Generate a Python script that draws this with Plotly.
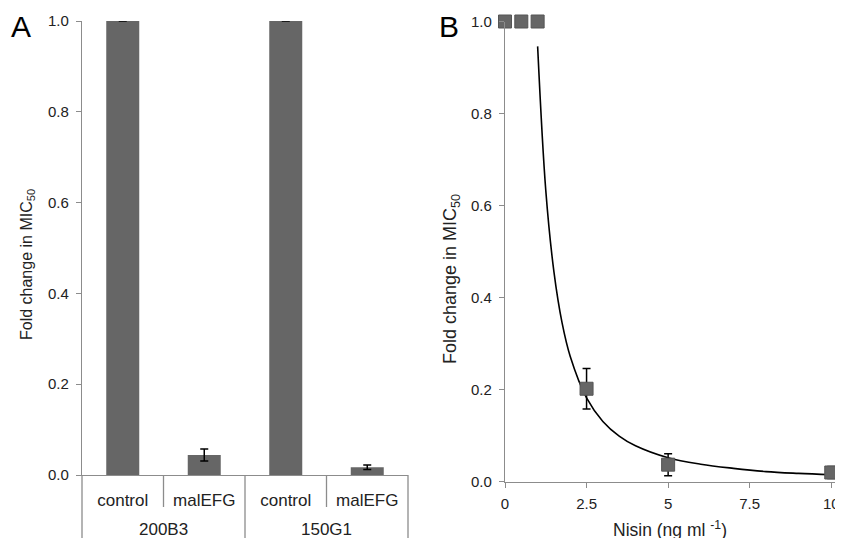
import plotly.graph_objects as go

W, H = 851, 530      # figure size (page body adds an 8px offset)
OFF = 8

# ---- Panel A data ----
strains = ["200B3", "200B3", "150G1", "150G1"]
conditions = ["control", "malEFG", "control", "malEFG"]
groups = ["200B3", "150G1"]
fold_a = [1.0, 0.044, 1.0, 0.017]
err_a = [0.0, 0.013, 0.0, 0.005]

# ---- Panel B data ----
nisin_x = [0, 0.5, 1.0, 2.5, 5, 10]
fold_b = [1.0, 1.0, 1.0, 0.202, 0.037, 0.02]
err_b = [0.0, 0.0, 0.0, 0.044, 0.024, 0.013]

# trend curve
curve_x = [1.0, 1.25, 1.5, 1.75, 2.0, 2.5, 3.0, 3.5, 4.0, 5.0, 6.0, 7.0, 8.0, 9.0, 10.0]
curve_y = [0.946, 0.633, 0.456, 0.345, 0.272, 0.182, 0.131, 0.099, 0.078, 0.052, 0.038, 0.029, 0.022, 0.018, 0.015]

xticks_b = [0, 2.5, 5, 7.5, 10]
xticklabels_b = ["0", "2.5", "5", "7.5", "10"]
yticks = [0, 0.2, 0.4, 0.6, 0.8, 1.0]

BAR = "#666666"
AX = "#8c8c8c"
FONT = "Liberation Sans, Arial, sans-serif"
TXT = "#222222"

def px_x(p):
    return (p - OFF) / W

def px_y(p):
    return 1 - (p - OFF) / H

def errs(vals):
    # no error bar drawn where the error is zero
    return [v if v > 0 else None for v in vals]

cats = [s + " " + c for s, c in zip(strains, conditions)]

fig = go.Figure()

fig.add_trace(go.Bar(
    x=cats, y=fold_a,
    marker=dict(color=BAR, line=dict(width=0)),
    error_y=dict(type="data", array=errs(err_a), color="black", thickness=1.5, width=4),
    xaxis="x", yaxis="y", showlegend=False,
))

fig.add_trace(go.Scatter(
    x=curve_x, y=curve_y, mode="lines", line=dict(color="black", width=1.6, shape="spline"),
    xaxis="x2", yaxis="y2", showlegend=False,
))

fig.add_trace(go.Scatter(
    x=nisin_x, y=fold_b, mode="markers",
    marker=dict(symbol="square", size=13, color=BAR, line=dict(color="#555555", width=1)),
    error_y=dict(type="data", array=errs(err_b), color="black", thickness=1.5, width=4),
    xaxis="x2", yaxis="y2", showlegend=False, cliponaxis=False,
))

ax_common = dict(showgrid=False, zeroline=False, linecolor=AX, linewidth=1.3,
                 tickfont=dict(family=FONT, size=15, color=TXT), automargin=False)

fig.update_layout(
    width=W, height=H,
    margin=dict(l=0, r=0, t=0, b=0),
    plot_bgcolor="white", paper_bgcolor="white",
    bargap=0.595,
    xaxis=dict(domain=[px_x(82), px_x(408)], type="category", showline=True,
               tickvals=cats, ticktext=conditions, ticks="",
               tickfont=dict(family=FONT, size=17, color=TXT),
               showgrid=False, zeroline=False, linecolor=AX, linewidth=1.3,
               ticklabelstandoff=9, automargin=False),
    yaxis=dict(domain=[px_y(475), px_y(21)], range=[0, 1], tickvals=yticks, tickformat=".1f",
               ticks="outside", ticklen=5, tickcolor=AX, showline=True, ticklabelstandoff=4,
               **ax_common),
    xaxis2=dict(domain=[px_x(505), px_x(843)], range=[0, 10.36], tickvals=xticks_b, ticktext=xticklabels_b,
                ticks="outside", ticklen=5, tickcolor=AX, showline=True, anchor="y2",
                ticklabelstandoff=3, ticklabeloverflow="allow", **ax_common),
    yaxis2=dict(domain=[px_y(481.7), px_y(21.5)], range=[0, 1], tickvals=yticks, tickformat=".1f",
                ticks="outside", ticklen=5, tickcolor=AX, showline=True, anchor="x2",
                ticklabelstandoff=4, **ax_common),
)

# category separators for panel A (axis decoration)
n = len(conditions)
shapes = []
for i in range(n + 1):
    xd = i / n
    is_group = (i % 2 == 0)
    y0 = 0 if is_group else px_y(507)
    shapes.append(dict(type="line", xref="x domain", yref="paper", x0=xd, x1=xd,
                       y0=px_y(475), y1=y0, line=dict(color=AX, width=1.3)))
fig.update_layout(shapes=shapes)

ann = [
    dict(text="A", x=px_x(21), y=px_y(27), font=dict(family=FONT, size=30, color="black")),
    dict(text="B", x=px_x(449), y=px_y(27), font=dict(family=FONT, size=30, color="black")),
    dict(text="Fold change in MIC<sub>50</sub>", x=px_x(27), y=px_y(265), textangle=-90,
         font=dict(family=FONT, size=16, color=TXT)),
    dict(text="Fold change in MIC<sub>50</sub>", x=px_x(451), y=px_y(279), textangle=-90,
         font=dict(family=FONT, size=18, color=TXT)),
    dict(text="Nisin (ng ml <sup>-1</sup>)", x=px_x(670), y=px_y(529),
         font=dict(family=FONT, size=17.5, color=TXT)),
]
for g_i, g in enumerate(groups):
    ann.append(dict(text=g, xref="x domain", x=(g_i + 0.5) / len(groups), y=px_y(529),
                    font=dict(family=FONT, size=17, color=TXT)))
for a in ann:
    a.setdefault("xref", "paper")
    a.update(yref="paper", showarrow=False, xanchor="center", yanchor="middle")
fig.update_layout(annotations=ann)

fig.write_html("out.html")
